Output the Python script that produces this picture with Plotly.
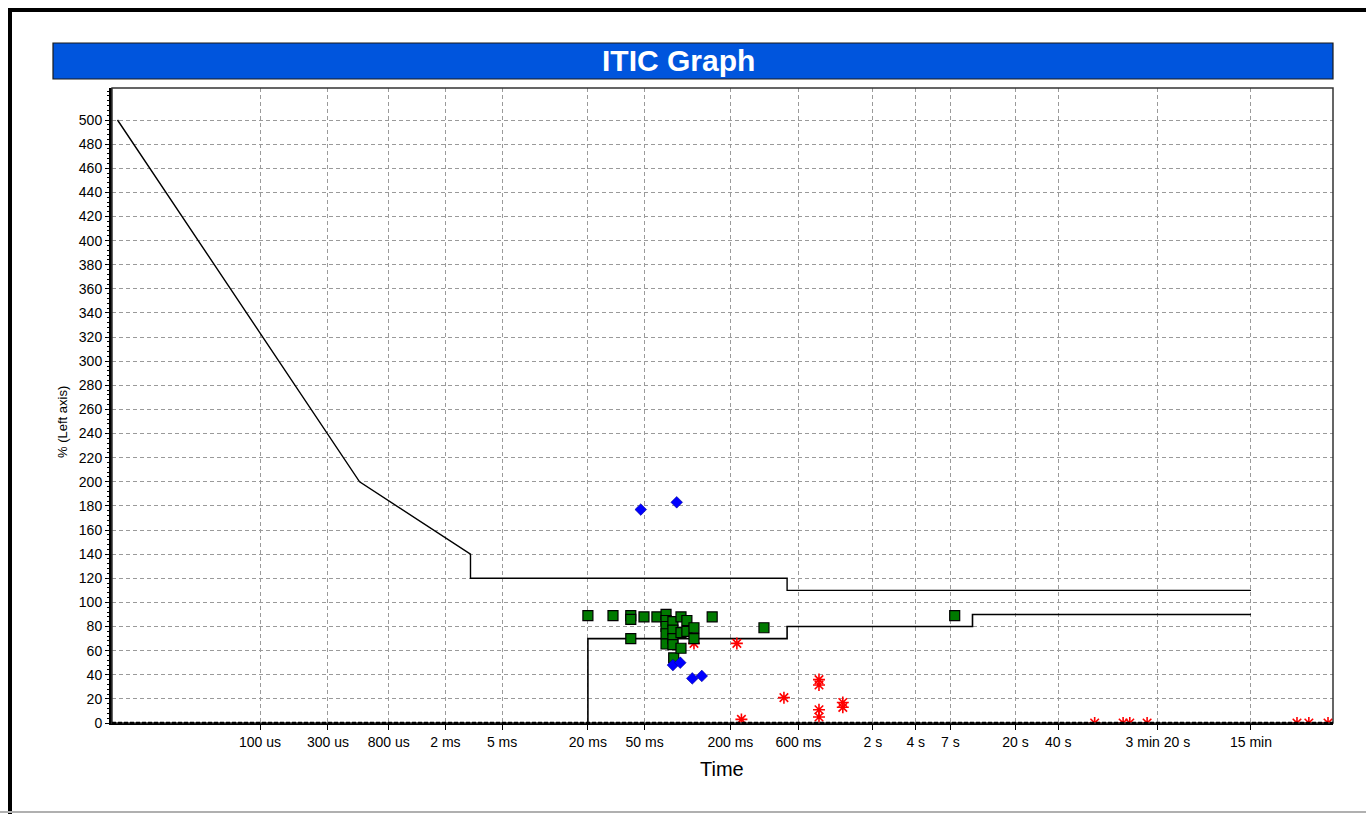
import plotly.graph_objects as go
import math

# ---- data ----
tick_vals = [1e-4, 3e-4, 8e-4, 2e-3, 5e-3, 2e-2, 5e-2, 0.2, 0.6, 2, 4, 7, 20, 40, 200, 900]
tick_text = ["100 us", "300 us", "800 us", "2 ms", "5 ms", "20 ms", "50 ms", "200 ms",
             "600 ms", "2 s", "4 s", "7 s", "20 s", "40 s", "3 min 20 s", "15 min"]

upper_x = [1e-5, 5e-4, 3e-3, 3e-3, 0.5, 0.5, 900]
upper_y = [500, 200, 140, 120, 120, 110, 110]
lower_x = [0.02, 0.02, 0.5, 0.5, 10, 10, 900]
lower_y = [0, 70, 70, 80, 80, 90, 90]

green_x = [0.020, 0.030, 0.040, 0.040, 0.040, 0.0495, 0.061,
           0.0707, 0.0707, 0.0707, 0.0707, 0.0707,
           0.079, 0.079, 0.079, 0.079, 0.080,
           0.090, 0.090, 0.090, 0.099, 0.099, 0.111, 0.111,
           0.149, 0.344, 7.5]
green_y = [89, 89, 89, 86, 70, 88, 88,
           90, 85, 80, 74, 65.5,
           84, 77, 70, 65, 54,
           88, 75, 62, 85, 76, 79, 70,
           88, 79, 89]

blue_x = [0.047, 0.084, 0.079, 0.089, 0.108, 0.126]
blue_y = [177, 183, 48, 50, 37, 39]

red_x = [0.111, 0.222, 0.239, 0.475, 0.837, 0.837, 0.837, 0.837, 1.23, 1.23,
         72, 114, 127, 168, 1893, 2293, 3125]
red_y = [66, 66, 3, 21, 36, 31.5, 11, 5, 17, 13,
         0, 0, 0, 0, 0, 0, 0]

y_ticks = list(range(0, 501, 20))

# ---- figure ----
W, H = 1366, 814
L, R, T, B = 112, 1333, 88, 723

fig = go.Figure()

fig.add_trace(go.Scatter(x=upper_x, y=upper_y, mode="lines",
                         line=dict(color="black", width=1.4), hoverinfo="skip"))
fig.add_trace(go.Scatter(x=lower_x, y=lower_y, mode="lines",
                         line=dict(color="black", width=1.6), hoverinfo="skip"))
fig.add_trace(go.Scatter(x=red_x, y=red_y, mode="markers",
                         marker=dict(symbol="asterisk-open", size=10,
                                     color="red", line=dict(color="red", width=1.6))))
fig.add_trace(go.Scatter(x=green_x, y=green_y, mode="markers",
                         marker=dict(symbol="square", size=10, color="#007A00",
                                     line=dict(color="black", width=1.2))))
fig.add_trace(go.Scatter(x=blue_x, y=blue_y, mode="markers",
                         marker=dict(symbol="diamond", size=9, color="#0000FF",
                                     line=dict(color="#000080", width=0.5))))

def px(xp):
    return (xp - L) / (R - L)

def py(yp):
    return (B - yp) / (B - T)

x_lo = math.log10(1e-4) + (L - 260) / 142.5
x_hi = math.log10(1e-4) + (R - 260) / 142.5
y_hi = 500 + (120 - T) / ((B - 120) / 500)

fig.update_layout(
    width=W, height=H,
    margin=dict(l=L, r=W - R, t=T, b=H - B),
    paper_bgcolor="white", plot_bgcolor="white",
    showlegend=False,
    font=dict(family="Liberation Sans, Arial, sans-serif", size=14, color="black"),
    xaxis=dict(type="log", range=[x_lo, x_hi], tickvals=tick_vals, ticktext=tick_text,
               showgrid=True, gridcolor="#9a9a9a", griddash="4px,3px", gridwidth=1,
               ticks="outside", ticklen=5, tickcolor="black",
               showline=True, linecolor="black", linewidth=2, mirror=False,
               zeroline=False, tickfont=dict(size=14)),
    yaxis=dict(range=[0, y_hi], tickvals=y_ticks,
               showgrid=True, gridcolor="#9a9a9a", griddash="4px,3px", gridwidth=1,
               ticks="outside", ticklen=4, tickcolor="black",
               minor=dict(ticks="outside", ticklen=2, dtick=4, tick0=0, tickcolor="black", showgrid=False),
               showline=True, linecolor="black", linewidth=3, mirror=False,
               zeroline=False, tickfont=dict(size=14)),
)

shapes = [
    # plot frame
    dict(type="rect", xref="paper", yref="paper", x0=0, x1=1, y0=0, y1=1,
         line=dict(color="#333333", width=1.5), fillcolor="rgba(0,0,0,0)", layer="above"),
    # bottom dashed zero line emphasis
    dict(type="line", xref="paper", yref="paper", x0=0, x1=1, y0=0, y1=0,
         line=dict(color="black", width=2.5, dash="4px,2px"), layer="above"),
    # title bar
    dict(type="rect", xref="paper", yref="paper", x0=px(53), x1=px(1333), y0=py(79), y1=py(43),
         line=dict(color="#1a1a1a", width=1.2), fillcolor="#0055DD", layer="below"),
    # outer border lines
    dict(type="line", xref="paper", yref="paper", x0=px(8), x1=px(1366), y0=py(10), y1=py(10),
         line=dict(color="black", width=4), layer="below"),
    dict(type="line", xref="paper", yref="paper", x0=px(10), x1=px(10), y0=py(8), y1=py(814),
         line=dict(color="black", width=4), layer="below"),
    dict(type="line", xref="paper", yref="paper", x0=px(0), x1=px(1366), y0=py(812), y1=py(812),
         line=dict(color="#b0b0b0", width=2), layer="below"),
]
fig.update_layout(shapes=shapes)

fig.add_annotation(text="<b>ITIC Graph</b>", xref="paper", yref="paper",
                   x=px(678), y=py(61), xanchor="center", yanchor="middle", showarrow=False,
                   font=dict(size=30, color="white", family="Liberation Sans Narrow, Liberation Sans, Arial"))
fig.add_annotation(text="Time", xref="paper", yref="paper", x=px(722), y=py(769),
                   xanchor="center", yanchor="middle", showarrow=False, font=dict(size=20))
fig.add_annotation(text="% (Left axis)", xref="paper", yref="paper", x=px(62), y=py(422),
                   xanchor="center", yanchor="middle",
                   textangle=-90, showarrow=False, font=dict(size=13))

fig.write_html("out.html", config={"displayModeBar": False},
               post_script="document.body.style.margin='0';document.body.style.overflow='hidden';")
